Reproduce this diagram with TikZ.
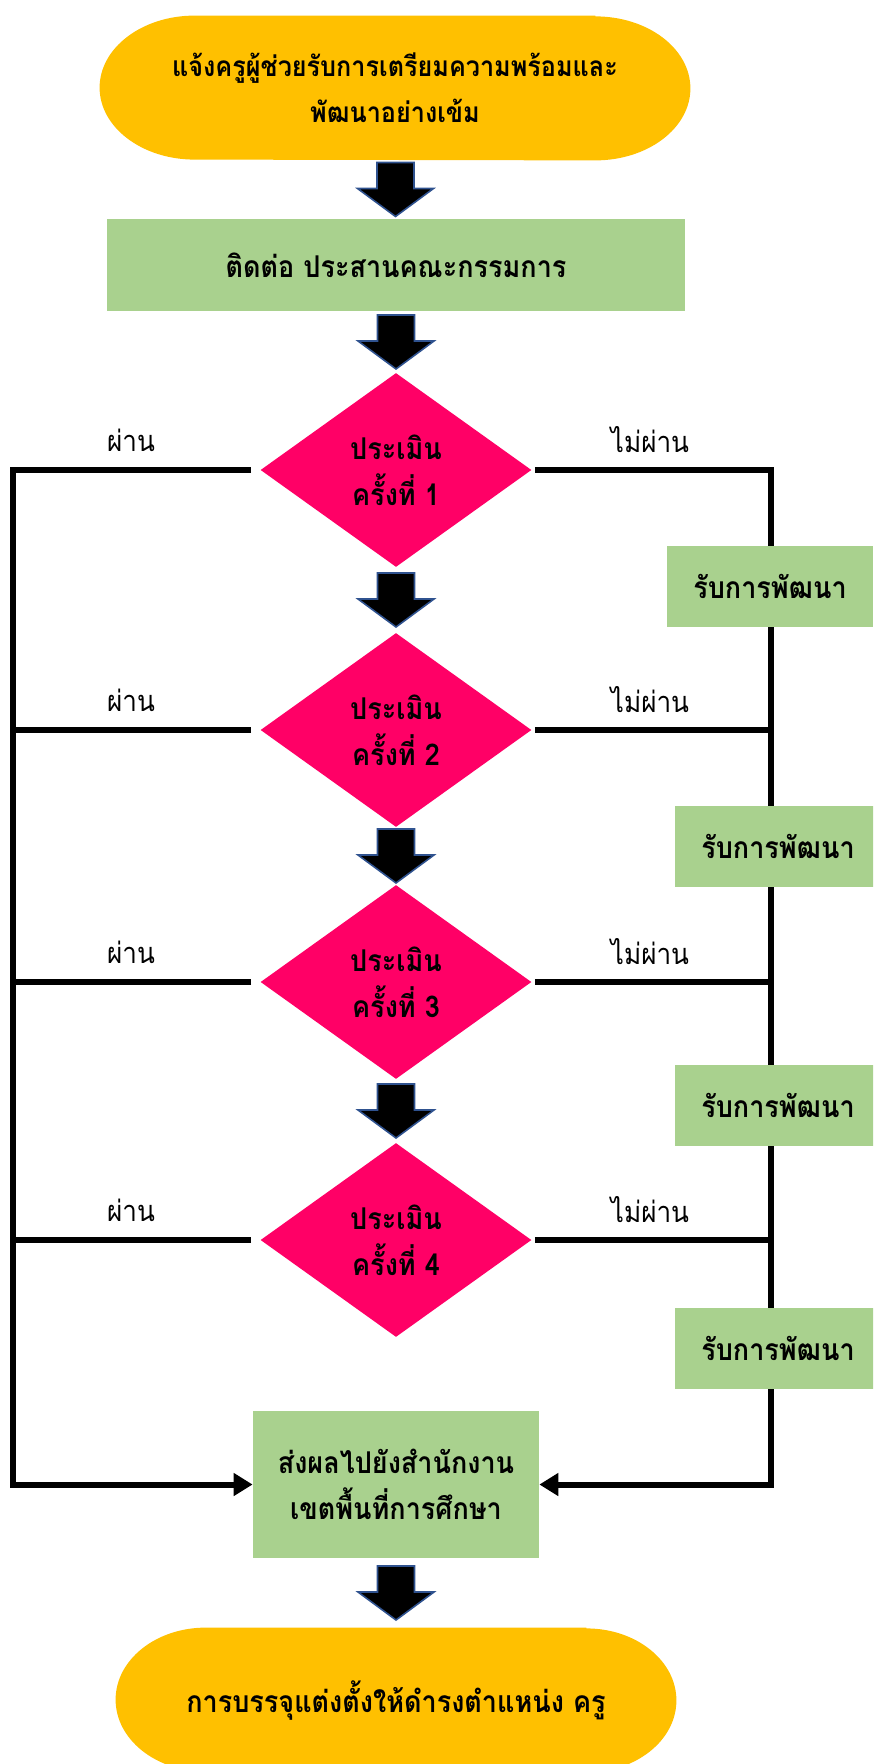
\documentclass[tikz,border=0pt]{standalone}
\usepackage{fontspec}
\newfontfamily\thaifont[Script=Thai,FakeStretch=0.9]{Loma}
\usetikzlibrary{shapes.geometric,arrows.meta,calc,backgrounds}

\definecolor{termfill}{HTML}{FFC000}
\definecolor{boxfill}{HTML}{A9D18E}
\definecolor{checkfill}{HTML}{FF0066}
\definecolor{arrowedge}{HTML}{2F528F}

\begin{document}
\begin{tikzpicture}[x=0.5pt,y=-0.5pt,
	every node/.style={font={\thaifont\bfseries\fontsize{15}{23}\selectfont},inner sep=0pt,align=center},
	terminal/.style={minimum height=72pt},
	stepbox/.style={fill=boxfill},
	check/.style={diamond,fill=checkfill,minimum width=135.5pt,minimum height=97pt},
	devbox/.style={fill=boxfill,minimum width=103pt,minimum height=40.5pt},
	answer/.style={font={\thaifont\fontsize{14.5}{16}\selectfont}},
	flow/.style={line width=3pt},
	blockarrow/.pic={\draw[fill=black,draw=arrowedge,line width=0.8pt] (-18.5,-27) -- (18.5,-27) -- (18.5,-1) -- (38,-1) -- (0,27) -- (-38,-1) -- (-18.5,-1) -- cycle;}]
	\path[use as bounding box,clip] (0,0) rectangle (873,1764);
	% start and end of the flow
	\node[terminal,minimum width=295pt,font={\thaifont\bfseries\fontsize{14}{23}\selectfont}] (start) at (395,88) {แจ้งครูผู้ช่วยรับการเตรียมความพร้อมและ\\พัฒนาอย่างเข้ม};
	\node[stepbox,minimum width=289pt,minimum height=46pt] (contact) at (396,265) {ติดต่อ ประสานคณะกรรมการ};
	\node[stepbox,minimum width=143pt,minimum height=73.5pt] (report) at (396,1484.5) {ส่งผลไปยังสำนักงาน\\เขตพื้นที่การศึกษา};
	\node[terminal,minimum width=280pt] (finish) at (396,1700) {การบรรจุแต่งตั้งให้ดำรงตำแหน่ง ครู};
	% four assessments
	\foreach \i/\y in {1/470,2/730,3/982,4/1240} {
		\node[check] (check\i) at (396,\y) {ประเมิน\\ครั้งที่ \i};
		\node[answer] (pass\i) at (131,{\y-30}) {ผ่าน};
		\node[answer] (fail\i) at (650,{\y-30}) {ไม่ผ่าน};
	}
	\foreach \i/\x/\y in {1/770/586.5,2/778/846.5,3/778/1105.5,4/778/1348}
	\node[devbox] (dev\i) at (\x,\y) {รับการพัฒนา};
	\coordinate (passline) at (13,0);
	\coordinate (failline) at (771,0);
	\begin{scope}[on background layer]
		\fill[termfill] ([xshift=-47.5pt]start.north east) -- ([xshift=47.5pt]start.north west) arc[start angle=90,end angle=270,x radius=47.5pt,y radius=36pt] -- ([xshift=-47.5pt]start.south east) arc[start angle=-90,end angle=90,x radius=47.5pt,y radius=36pt] -- cycle;
		\fill[termfill] ([xshift=-45pt]finish.north east) -- ([xshift=45pt]finish.north west) arc[start angle=90,end angle=270,x radius=45pt,y radius=36pt] -- ([xshift=-45pt]finish.south east) arc[start angle=-90,end angle=90,x radius=45pt,y radius=36pt] -- cycle;
		\draw[flow,shorten <=4.5pt,-{Triangle[length=9.5pt,width=11pt]}] (check1.west) -- (passline |- check1.west) -- (passline |- report.west) -- (report.west);
		\draw[flow,shorten <=1.5pt,-{Triangle[length=9.5pt,width=11pt]}] (check1.east) -- (failline |- check1.east) -- (failline |- report.east) -- (report.east);
		\foreach \i in {2,3,4} {
			\draw[flow,shorten <=4.5pt] (check\i.west) -- (passline |- check\i.west);
			\draw[flow,shorten <=1.5pt] (check\i.east) -- (failline |- check\i.east);
		}
	\end{scope}
	% block arrows down the middle
	\foreach \a/\b in {start/contact,contact/check1,check1/check2,check2/check3,check3/check4,report/finish}
	\pic at ($(\a.south)!0.5!(\b.north)$) {blockarrow};
\end{tikzpicture}
\end{document}
